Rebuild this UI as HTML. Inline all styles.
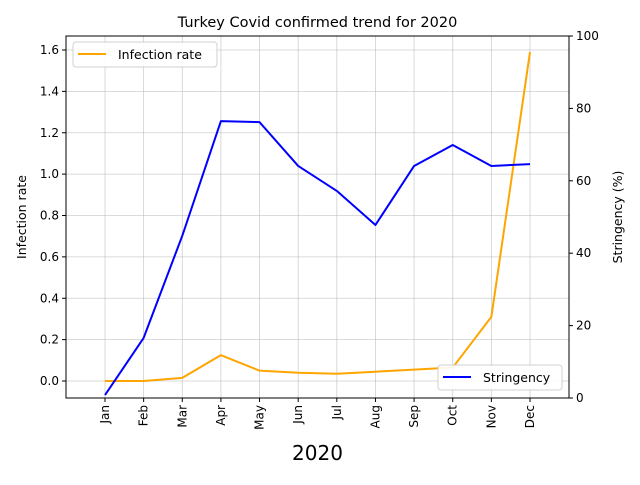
<!DOCTYPE html>
<html><head><meta charset="utf-8"><style>
body{margin:0;background:#fff;font-family:"Liberation Sans","DejaVu Sans",sans-serif}
svg text{font-family:"DejaVu Sans","Liberation Sans",sans-serif}
</style></head><body>
<svg id="chart" width="640" height="480" xmlns="http://www.w3.org/2000/svg"></svg>
<script>
const categories=["Jan","Feb","Mar","Apr","May","Jun","Jul","Aug","Sep","Oct","Nov","Dec"];
const infectionRate=[0,0,0.015,0.125,0.05,0.04,0.035,0.045,0.055,0.065,0.31,1.59];
const stringency=[0.8,16.6,44.8,76.5,76.2,64.1,57.2,47.8,64.1,69.9,64.1,64.6];
const leftTicks=[0,0.2,0.4,0.6,0.8,1.0,1.2,1.4,1.6];
const rightTicks=[0,20,40,60,80,100];

const svg=document.getElementById('chart');
const NS='http://www.w3.org/2000/svg';
const L=66,R=569,T=36,B=398;
function x(i){return 105+i*(530-105)/11;}
function yl(v){return 381-v*(381-50)/1.6;}
function yr(v){return 398-v*(398-36)/100;}
function mk(tag,attrs,parent){const e=document.createElementNS(NS,tag);for(const k in attrs)e.setAttribute(k,attrs[k]);(parent||svg).appendChild(e);return e;}
function txt(s,attrs){const e=mk('text',attrs);e.textContent=s;return e;}

// grid
categories.forEach((c,i)=>{const g=mk('line',{x1:x(i),x2:x(i),y1:T,y2:B,stroke:'#b0b0b0','stroke-width':0.8,opacity:0.6});

});
leftTicks.forEach(v=>{const g=mk('line',{x1:L,x2:R,y1:yl(v),y2:yl(v),stroke:'#b0b0b0','stroke-width':0.8,opacity:0.6});

});

// series
function path(vals,yf,color,name){const d=vals.map((v,i)=>(i?'L':'M')+x(i)+','+yf(v)).join(' ');
const p=mk('path',{d:d,fill:'none',stroke:color,'stroke-width':2,'stroke-linejoin':'round'});

}
path(infectionRate,yl,'orange','infection-rate-line');
path(stringency,yr,'blue','stringency-line');

// frame
const fr=mk('rect',{x:L,y:T,width:R-L,height:B-T,fill:'none',stroke:'#000','stroke-width':1});



// x ticks
categories.forEach((c,i)=>{mk('line',{x1:x(i),x2:x(i),y1:B,y2:B+4,stroke:'#000'});
const t=txt(c,{x:0,y:0,'font-size':12,'text-anchor':'end',transform:`translate(${x(i)+4},${B+7}) rotate(-90)`});

});
leftTicks.forEach(v=>{mk('line',{x1:L-4,x2:L,y1:yl(v),y2:yl(v),stroke:'#000'});
const t=txt(v.toFixed(1),{x:L-7,y:yl(v)+4,'font-size':12,'text-anchor':'end'});

});
rightTicks.forEach(v=>{mk('line',{x1:R,x2:R+4,y1:yr(v),y2:yr(v),stroke:'#000'});
const t=txt(String(v),{x:R+7,y:yr(v)+4,'font-size':12,'text-anchor':'start'});

});

let e;
e=txt('Turkey Covid confirmed trend for 2020',{x:317.5,y:27,'font-size':14.5,'text-anchor':'middle'});

e=txt('2020',{x:317.5,y:460,'font-size':20,'text-anchor':'middle'});

e=txt('Infection rate',{x:0,y:0,'font-size':12.5,'text-anchor':'middle',transform:'translate(26,217) rotate(-90)'});

e=txt('Stringency (%)',{x:0,y:0,'font-size':12.5,'text-anchor':'middle',transform:'translate(622,217) rotate(-90)'});


// legends
const lg1=mk('g',{});


mk('rect',{x:73,y:42,width:144,height:25,rx:3,fill:'#fff',stroke:'#ccc',opacity:0.9},lg1);
mk('line',{x1:78,x2:106,y1:54,y2:54,stroke:'orange','stroke-width':2},lg1);
const t1=mk('text',{x:118,y:59,'font-size':12.5},lg1);t1.textContent='Infection rate';
const lg2=mk('g',{});


mk('rect',{x:438,y:365,width:124,height:25,rx:3,fill:'#fff',stroke:'#ccc',opacity:0.9},lg2);
mk('line',{x1:443,x2:471,y1:377,y2:377,stroke:'blue','stroke-width':2},lg2);
const t2=mk('text',{x:483,y:382,'font-size':12.5},lg2);t2.textContent='Stringency';
</script>
</body></html>
